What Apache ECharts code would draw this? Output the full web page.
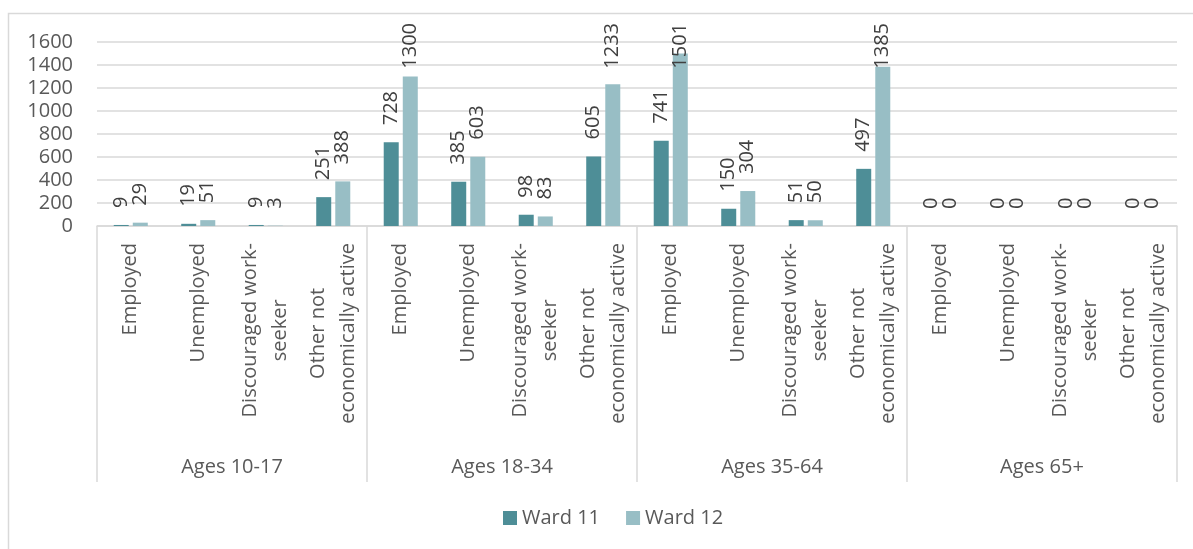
<!DOCTYPE html>
<html>
<head>
<meta charset="utf-8">
<script src="https://cdn.jsdelivr.net/npm/echarts@6/dist/echarts.min.js"></script>
<style>
  html, body { margin: 0; padding: 0; background: #fff; }
  #chart { width: 1193px; height: 549px; }
</style>
</head>
<body>
<div id="chart"></div>
<script>
// data
const ageGroups = ['Ages 10-17', 'Ages 18-34', 'Ages 35-64', 'Ages 65+']
const subCategories = ['Employed', 'Unemployed', 'Discouraged work-\nseeker', 'Other not\neconomically active']
const ward11 = [9, 19, 9, 251, 728, 385, 98, 605, 741, 150, 51, 497, 0, 0, 0, 0]
const ward12 = [29, 51, 3, 388, 1300, 603, 83, 1233, 1501, 304, 50, 1385, 0, 0, 0, 0]
const yTicks = [0, 200, 400, 600, 800, 1000, 1200, 1400, 1600]

const font = '"Open Sans", "Noto Sans", sans-serif'
const gray = '#d9d9d9'
const axisText = '#595959'

// one label per sub category, repeated for every age group
const xLabels = []
ageGroups.forEach(() => subCategories.forEach(s => xLabels.push(s)))

const chart = echarts.init(document.getElementById('chart'))

// keep value labels inside the plot like Excel does
const clampLabel = (params) => {
  const r = params.labelRect
  if (r.y < 23) {
    return { x: r.x + r.width / 2, y: 23 + r.height }
  }
}

const barLabel = {
  show: true,
  position: 'top',
  distance: 17,
  rotate: 90,
  align: 'left',
  verticalAlign: 'middle',
  fontFamily: font,
  fontSize: 20,
  color: '#404040'
}

const option = {
  animation: false,
  textStyle: { fontFamily: font },
  graphic: [
    {
      type: 'rect',
      shape: { x: 8.5, y: 13.5, width: 1300, height: 700 },
      style: { fill: 'none', stroke: gray, lineWidth: 1.5 },
      silent: true
    }
  ],
  grid: {
    left: 97,
    right: 16,
    top: 42,
    bottom: 323
  },
  legend: {
    data: ['Ward 11', 'Ward 12'],
    left: 498,
    top: 503,
    icon: 'rect',
    itemWidth: 14,
    itemHeight: 14,
    itemGap: 26,
    textStyle: { fontFamily: font, fontSize: 20, color: axisText }
  },
  xAxis: [
    {
      type: 'category',
      data: xLabels,
      axisLine: { show: true, lineStyle: { color: gray, width: 1.5 } },
      axisTick: { show: false },
      axisLabel: {
        interval: 0,
        rotate: 90,
        margin: 17,
        formatter: (v) => v.split('\n').map(l => '{c|' + l + '}').join('\n'),
        rich: {
          c: { align: 'center', fontFamily: font, fontSize: 20, lineHeight: 30, color: axisText }
        }
      }
    },
    {
      type: 'category',
      data: ageGroups,
      position: 'bottom',
      axisLine: { show: false },
      axisTick: { show: true, length: 256, lineStyle: { color: gray, width: 1.5 } },
      axisLabel: {
        interval: 0,
        margin: 241,
        verticalAlign: 'middle',
        fontFamily: font,
        fontSize: 20,
        color: axisText
      }
    }
  ],
  yAxis: {
    type: 'value',
    min: yTicks[0],
    max: yTicks[yTicks.length - 1],
    interval: 200,
    axisLine: { show: false },
    axisTick: { show: false },
    axisLabel: {
      margin: 24,
      fontFamily: font,
      fontSize: 20,
      color: axisText,
      formatter: (v) => String(v)
    },
    splitLine: { lineStyle: { color: gray, width: 1.5 } }
  },
  series: [
    {
      name: 'Ward 11',
      type: 'bar',
      xAxisIndex: 0,
      data: ward11,
      barWidth: 15,
      barGap: '27%',
      itemStyle: { color: '#4e8e97' },
      label: barLabel,
      labelLayout: clampLabel
    },
    {
      name: 'Ward 12',
      type: 'bar',
      xAxisIndex: 0,
      data: ward12,
      barWidth: 15,
      barGap: '27%',
      itemStyle: { color: '#98bec5' },
      label: barLabel,
      labelLayout: clampLabel
    }
  ]
}

chart.setOption(option)
window.addEventListener('resize', () => chart.resize())
</script>
</body>
</html>
